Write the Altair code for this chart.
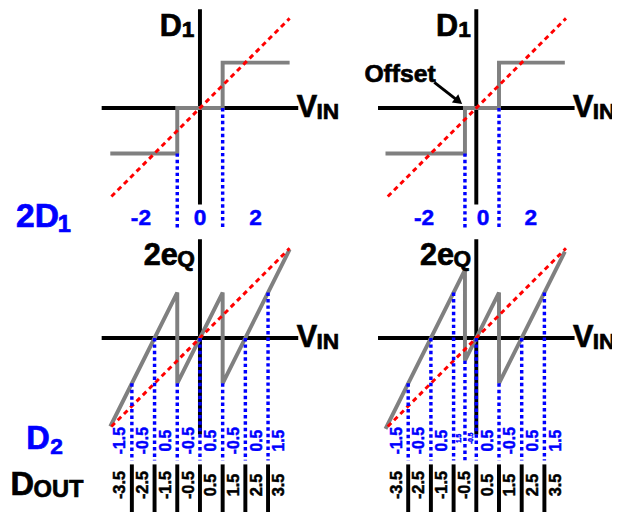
import altair as alt
import pandas as pd

# ===================== values (signal units) =====================
# top row: first-stage code D1 (staircase)
D1_X_IDEAL = [-3.95, -1.0, -1.0, 1.0, 1.0, 3.95]
D1_X_OFFSET = [-4.0, -0.5, -0.5, 1.0, 1.0, 3.9]
D1_Y = [-2, -2, 0, 0, 2, 2]
# bottom row: residue 2eQ (sawtooth)
EQ_X_IDEAL = [-3.95, -1.0, -1.0, 1.0, 1.0, 3.95]
EQ_Y_IDEAL = [-3.9, 2.0, -2.0, 2.0, -2.0, 3.9]
EQ_X_OFFSET = [-4.0, -0.5, -0.5, 1.0, 1.0, 3.9]
EQ_Y_OFFSET = [-4.0, 3.0, -1.0, 2.0, -2.0, 3.8]
# ideal transfer (red dashed), same in every graph
IDEAL_X = [-3.9, 3.95]
IDEAL_Y = [-3.9, 3.95]
# D1 thresholds (blue dotted lines in the top row start on the staircase)
TH_X_IDEAL = [-1.0, 1.0]
TH_X_OFFSET = [-0.5, 1.0]
TH_Y = [-2, 0]
# D1 codes
D1_CODES = ["-2", "0", "2"]
D1_CODE_X_IDEAL = [-2.6, 0.0, 2.45]
D1_CODE_X_OFFSET = [-2.3, 0.3, 2.4]
# D2 decision lines (bottom row): position and residue level where they start
D2_LINE_X_IDEAL = [-3, -2, -1, 0, 1, 2, 3]
D2_LINE_Y_IDEAL = [-2, 0, -2, 0, -2, 0, 2]
D2_LINE_X_OFFSET = [-3, -2, -1, -0.5, 0, 1, 2, 3]
D2_LINE_Y_OFFSET = [-2, 0, 2, -1, 0, -2, 0, 2]
# D2 codes
D2_CODE_X_IDEAL = [-3.5, -2.5, -1.5, -0.5, 0.5, 1.5, 2.5, 3.5]
D2_CODES_IDEAL = ["-1.5", "-0.5", "0.5", "-0.5", "0.5", "-0.5", "0.5", "1.5"]
D2_CODE_X_OFFSET = [-3.5, -2.5, -1.5, -0.75, -0.25, 0.5, 1.5, 2.5, 3.5]
D2_CODES_OFFSET = ["-1.5", "-0.5", "0.5", "1.5", "-0.5", "0.5", "-0.5", "0.5", "1.5"]
D2_TINY_OFFSET = [False, False, False, True, True, False, False, False, False]
# DOUT codes and separators
DOUT_X = [-3.5, -2.5, -1.5, -0.5, 0.5, 1.5, 2.5, 3.5]
DOUT_CODES = ["-3.5", "-2.5", "-1.5", "-0.5", "0.5", "1.5", "2.5", "3.5"]
DOUT_SEP_X = [-3, -2, -1, 0, 1, 2, 3]

# ===================== layout =====================
PX = 23.0
W, H = 612, 504
PANEL_DX = {"ideal": 0.0, "offset": 280 / PX}
ROW_DY = {"top": 0.0, "bottom": -233 / PX}
X_DOMAIN = [-194.5 / PX, (W - 194.5) / PX]
Y_DOMAIN = [(98 - H) / PX, 98 / PX]
AX_H = (-4.33, 4.33)
AX_V = (-4.25, 4.35)
DOT_END_TOP = -5.3
DOT_END_BOTTOM = -5.4
SEP_Y = (-5.57, -7.8)
D1_CODE_Y = -4.87
D2_CODE_Y = -4.52
DOUT_CODE_Y = -6.48
FONT = "Liberation Sans"
BIG, SUB = 31, 23


def gx(v, p):
    return v + PANEL_DX[p]


def gy(v, r):
    return v + ROW_DY[r]


# black axes
axes_rows = []
for p in ["ideal", "offset"]:
    for r in ["top", "bottom"]:
        axes_rows.append(dict(x=gx(AX_H[0], p), x2=gx(AX_H[1], p), y=gy(0, r), y2=gy(0, r)))
        axes_rows.append(dict(x=gx(0, p), x2=gx(0, p), y=gy(AX_V[0], r), y2=gy(AX_V[1], r)))
for p in ["ideal", "offset"]:
    for xv in DOUT_SEP_X:
        axes_rows.append(dict(x=gx(xv, p), x2=gx(xv, p), y=gy(SEP_Y[0], "bottom"), y2=gy(SEP_Y[1], "bottom")))
axes_df = pd.DataFrame(axes_rows)

# gray transfer curves
gray_rows = []
for sid, (xs, ys, p, r) in enumerate([
    (D1_X_IDEAL, D1_Y, "ideal", "top"),
    (D1_X_OFFSET, D1_Y, "offset", "top"),
    (EQ_X_IDEAL, EQ_Y_IDEAL, "ideal", "bottom"),
    (EQ_X_OFFSET, EQ_Y_OFFSET, "offset", "bottom"),
]):
    for i, (a, b) in enumerate(zip(xs, ys)):
        gray_rows.append(dict(s=sid, o=i, x=gx(a, p), y=gy(b, r)))
gray_df = pd.DataFrame(gray_rows)

# red ideal lines
red_rows = []
sid = 0
for p in ["ideal", "offset"]:
    for r in ["top", "bottom"]:
        for i, (a, b) in enumerate(zip(IDEAL_X, IDEAL_Y)):
            red_rows.append(dict(s=sid, o=i, x=gx(a, p), y=gy(b, r)))
        sid += 1
red_df = pd.DataFrame(red_rows)

# blue dotted decision lines
blue_rows = []
for p, xs in [("ideal", TH_X_IDEAL), ("offset", TH_X_OFFSET)]:
    for a, b in zip(xs, TH_Y):
        blue_rows.append(dict(x=gx(a, p), y=gy(b, "top"), y2=gy(DOT_END_TOP, "top")))
for p, xs, ys in [("ideal", D2_LINE_X_IDEAL, D2_LINE_Y_IDEAL), ("offset", D2_LINE_X_OFFSET, D2_LINE_Y_OFFSET)]:
    for a, b in zip(xs, ys):
        blue_rows.append(dict(x=gx(a, p), y=gy(b, "bottom"), y2=gy(DOT_END_BOTTOM, "bottom")))
blue_df = pd.DataFrame(blue_rows)

# centred code labels
code_rows = []
for p, xs in [("ideal", D1_CODE_X_IDEAL), ("offset", D1_CODE_X_OFFSET)]:
    for a, t in zip(xs, D1_CODES):
        code_rows.append(dict(x=gx(a, p), y=gy(D1_CODE_Y, "top"), text=t, size=23, color="#0000FF", angle=0))
for a, t in zip(D2_CODE_X_IDEAL, D2_CODES_IDEAL):
    code_rows.append(dict(x=gx(a, "ideal"), y=gy(D2_CODE_Y, "bottom"), text=t, size=16, color="#0000FF", angle=270))
for a, t, tiny in zip(D2_CODE_X_OFFSET, D2_CODES_OFFSET, D2_TINY_OFFSET):
    code_rows.append(dict(x=gx(a, "offset"), y=gy(D2_CODE_Y + (0.1 if tiny else 0), "bottom"), text=t,
                          size=6.5 if tiny else 16, color="#0000FF", angle=270))
for p in ["ideal", "offset"]:
    for a, t in zip(DOUT_X, DOUT_CODES):
        code_rows.append(dict(x=gx(a, p), y=gy(DOUT_CODE_Y, "bottom"), text=t, size=16.5, color="#000000", angle=270))
code_df = pd.DataFrame(code_rows)

# axis names and side titles (left-aligned, baseline)
name_rows = []
for p in ["ideal", "offset"]:
    name_rows += [
        dict(x=gx(-1.77, p), y=gy(3.17, "top"), text="D", size=BIG, color="#000000"),
        dict(x=gx(-0.8, p), y=gy(3.11, "top"), text="1", size=SUB, color="#000000"),
        dict(x=gx(4.26, p), y=gy(-0.391, "top"), text="V", size=BIG, color="#000000"),
        dict(x=gx(5.13, p), y=gy(-0.478, "top"), text="IN", size=SUB, color="#000000"),
        dict(x=gx(4.26, p), y=gy(-0.391, "bottom"), text="V", size=BIG, color="#000000"),
        dict(x=gx(5.13, p), y=gy(-0.478, "bottom"), text="IN", size=SUB, color="#000000"),
        dict(x=gx(-2.48, p), y=gy(3.217, "bottom"), text="2e", size=BIG, color="#000000"),
        dict(x=gx(-1.0, p), y=gy(3.17, "bottom"), text="Q", size=SUB, color="#000000"),
    ]
name_rows += [
    dict(x=gx(-4.93, "offset"), y=gy(1.15, "top"), text="Offset", size=25, color="#000000"),
    dict(x=gx(-8.1, "ideal"), y=gy(-5.26, "top"), text="2D", size=34, color="#0000FF"),
    dict(x=gx(-6.27, "ideal"), y=gy(-5.48, "top"), text="1", size=24, color="#0000FF"),
    dict(x=gx(-7.65, "ideal"), y=gy(-4.913, "bottom"), text="D", size=33, color="#0000FF"),
    dict(x=gx(-6.6, "ideal"), y=gy(-5.13, "bottom"), text="2", size=23, color="#0000FF"),
    dict(x=gx(-8.35, "ideal"), y=gy(-6.913, "bottom"), text="D", size=33, color="#000000"),
    dict(x=gx(-7.33, "ideal"), y=gy(-7.0, "bottom"), text="OUT", size=24, color="#000000"),
]
name_df = pd.DataFrame(name_rows)

# offset arrow
arrow_df = pd.DataFrame([dict(x=gx(-1.85, "offset"), y=gy(1.13, "top"),
                              x2=gx(-0.86, "offset"), y2=gy(0.36, "top"))])
head_df = pd.DataFrame([dict(x=gx(-0.78, "offset"), y=gy(0.3, "top"))])

xs = alt.Scale(domain=X_DOMAIN, nice=False, zero=False)
ys = alt.Scale(domain=Y_DOMAIN, nice=False, zero=False)

axes = alt.Chart(axes_df).mark_rule(color="#000000", strokeWidth=4).encode(
    x=alt.X("x:Q", scale=xs, axis=None), x2="x2:Q",
    y=alt.Y("y:Q", scale=ys, axis=None), y2="y2:Q")

gray = alt.Chart(gray_df).mark_line(color="#808080", strokeWidth=4).encode(
    x=alt.X("x:Q", scale=xs, axis=None), y=alt.Y("y:Q", scale=ys, axis=None),
    detail="s:N", order="o:Q")

red = alt.Chart(red_df).mark_line(color="#FF0000", strokeWidth=3, strokeDash=[5, 4]).encode(
    x=alt.X("x:Q", scale=xs, axis=None), y=alt.Y("y:Q", scale=ys, axis=None),
    detail="s:N", order="o:Q")

blue = alt.Chart(blue_df).mark_rule(color="#0000FF", strokeWidth=3.5, strokeDash=[3.5, 3]).encode(
    x=alt.X("x:Q", scale=xs, axis=None), y=alt.Y("y:Q", scale=ys, axis=None), y2="y2:Q")

codes = alt.Chart(code_df).mark_text(font=FONT, fontWeight="bold", align="center", baseline="middle",
                                     strokeWidth=0.5).encode(
    x=alt.X("x:Q", scale=xs, axis=None), y=alt.Y("y:Q", scale=ys, axis=None),
    text="text:N", size=alt.Size("size:Q", scale=None), color=alt.Color("color:N", scale=None),
    stroke=alt.Stroke("color:N", scale=None),
    angle=alt.Angle("angle:Q", scale=None))

names = alt.Chart(name_df).mark_text(font=FONT, fontWeight="bold", align="left", baseline="alphabetic",
                                     strokeWidth=0.7).encode(
    x=alt.X("x:Q", scale=xs, axis=None), y=alt.Y("y:Q", scale=ys, axis=None),
    text="text:N", size=alt.Size("size:Q", scale=None), color=alt.Color("color:N", scale=None),
    stroke=alt.Stroke("color:N", scale=None))

arrow = alt.Chart(arrow_df).mark_rule(color="#000000", strokeWidth=3).encode(
    x=alt.X("x:Q", scale=xs, axis=None), x2="x2:Q",
    y=alt.Y("y:Q", scale=ys, axis=None), y2="y2:Q")

head = alt.Chart(head_df).mark_point(shape="triangle-up", filled=True, color="#000000",
                                     size=110, angle=128, opacity=1).encode(
    x=alt.X("x:Q", scale=xs, axis=None), y=alt.Y("y:Q", scale=ys, axis=None))

chart = alt.layer(axes, gray, red, blue, codes, names, arrow, head).properties(
    width=W, height=H, autosize="none", padding=0
).configure_view(stroke=None)

chart.save("out.html", embed_options={"renderer": "svg", "actions": False})
